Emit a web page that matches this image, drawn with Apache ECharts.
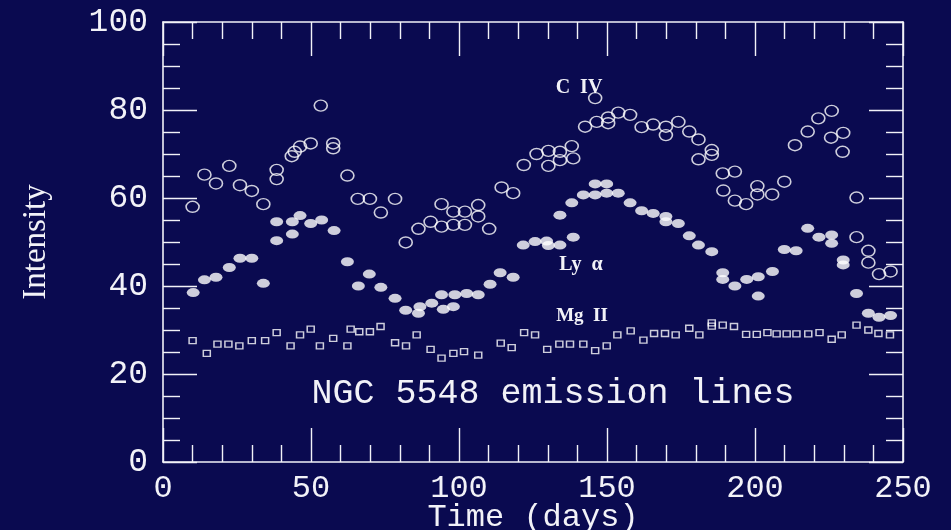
<!DOCTYPE html>
<html>
<head>
<meta charset="utf-8">
<script src="https://cdn.jsdelivr.net/npm/echarts@6/dist/echarts.min.js"></script>
<style>
html,body{margin:0;padding:0;background:#0a0a50;}
#chart{width:951px;height:530px;}
</style>
</head>
<body>
<div id="chart"></div>
<script>
// ---- data ----
const civDays = [10,14,17.9,22.4,26,30,33.9,38.4,38.4,43.5,44.5,46.3,49.9,53.3,57.5,57.5,62.3,65.8,69.9,73.6,78.4,82,86.3,90.4,94.1,94.1,98.1,98.1,102,102,106.5,106.5,110.2,114.4,118.3,121.9,126.2,130.2,130.2,134.1,134.1,138.1,138.6,142.6,146,146.5,150.4,150.4,153.8,157.8,161.7,165.6,169.9,169.9,174.1,177.8,180.9,180.9,185.4,185.4,189.1,193.2,189.3,193.2,197,200.8,200.8,205.8,209.9,213.5,217.8,221.4,225.9,225.7,229.8,229.6,234.3,234.3,238.3,238.3,241.9,245.8];
const civVals = [58.0,65.3,63.3,67.3,62.9,61.6,58.6,66.4,64.3,69.5,70.5,71.7,72.4,81.0,72.4,71.3,65.1,59.8,59.8,56.7,59.8,49.9,53.0,54.6,58.6,53.5,56.9,53.9,56.9,53.9,58.4,55.8,53.0,62.4,61.1,67.5,70.0,70.7,67.3,70.5,68.6,71.8,69.0,76.2,82.7,77.3,78.3,77.0,79.4,78.9,76.1,76.7,76.2,74.3,77.3,75.1,73.3,68.8,70.9,69.8,65.6,66.0,61.7,59.4,58.6,62.7,60.8,60.8,63.7,72.0,75.1,78.1,79.8,73.7,74.8,70.5,60.1,51.1,48.0,45.3,42.7,43.3];

const lyaDays = [10.2,14,17.9,22.4,26,30,33.9,38.4,38.4,43.7,43.7,46.3,49.9,53.6,57.8,62.3,66,69.7,73.6,78.4,82,86.3,86.8,90.8,94.7,94.1,98.1,98.6,102.6,106.5,110.5,113.9,118.3,121.7,125.7,129.6,130.2,134.1,138.6,134.1,138.1,142,146,146,149.9,149.9,153.8,157.8,161.7,165.6,169.9,169.9,174.1,177.8,180.9,185.4,189.1,189.1,193.2,197.2,201.1,201.1,205.9,209.9,213.9,217.8,221.6,225.9,225.9,229.8,229.8,234.3,238.3,241.9,245.8];
const lyaVals = [38.5,41.4,42.0,44.2,46.3,46.3,40.6,50.3,54.6,51.8,54.6,56.0,54.2,55.0,52.6,45.5,40.0,42.7,39.7,37.2,34.5,33.8,35.3,36.1,34.7,38.0,35.3,38.0,38.3,38.0,40.4,43.0,42.0,49.3,50.1,50.2,49.2,49.3,51.1,56.1,58.9,60.7,63.2,60.7,63.2,61.1,61.1,58.9,57.1,56.5,55.8,54.6,54.2,51.4,49.3,47.8,43.0,41.5,40.0,41.5,42.1,37.7,43.3,48.3,48.0,53.1,51.1,51.6,49.7,45.9,44.8,38.3,33.8,32.9,33.3];

const mgDays = [10,14.8,18.4,22.1,25.8,30,34.5,38.4,43.1,46.3,49.9,53,57.5,62.3,63.4,66.3,69.9,73.5,78.4,82.1,85.7,90.4,94.1,98.1,101.7,106.5,114.1,117.8,122,125.7,129.8,133.9,137.5,142,146,149.9,153.5,158,162.3,165.9,169.6,173.2,177.8,181.2,185.4,185.4,189.1,192.9,197,200.6,204.2,207.3,210.7,214,218,221.8,225.9,229.3,234.3,238.3,241.7,245.6];
const mgVals = [27.6,24.7,26.8,26.8,26.4,27.6,27.6,29.4,26.4,28.9,30.2,26.4,28.1,26.4,30.2,29.6,29.6,30.8,27.1,26.4,28.9,25.6,23.6,24.7,25.1,24.3,27.0,26.0,29.4,28.9,25.6,26.8,26.8,26.8,25.3,26.4,28.9,29.8,27.7,29.2,29.2,28.9,30.4,28.9,31.6,30.9,31.1,30.8,29.0,29.0,29.4,29.1,29.1,29.1,29.1,29.4,27.9,28.9,31.1,30.0,29.2,28.9];

const xTicks = [0,50,100,150,200,250];
const yTicks = [0,20,40,60,80,100];

// ---- chart ----
const FG = '#f2f2f8';
const MONO = '"Liberation Mono", "DejaVu Sans Mono", monospace';
const SERIF = '"Liberation Serif", "DejaVu Serif", serif';
function pairs(xs, ys){ return xs.map((x,i)=>[x, ys[i]]); }

function axisCommon(extra){
  return Object.assign({
    type:'value',
    axisLine:{show:true, onZero:false, lineStyle:{color:FG, width:1.6}},
    axisTick:{show:true, inside:true, length:34, lineStyle:{color:FG, width:1.4}},
    minorTick:{show:true, splitNumber:4, length:17, lineStyle:{color:FG, width:1.4}},
    splitLine:{show:false},
  }, extra);
}

const chart = echarts.init(document.getElementById('chart'), null, {renderer:'canvas'});
chart.setOption({
  backgroundColor:'#0a0a50',
  animation:false,
  grid:{left:163, top:22, right:48, bottom:68, containLabel:false, outerBoundsMode:'none'},
  xAxis:[
    axisCommon({position:'bottom', min:0, max:250, interval:50,
      minorTick:{show:true, splitNumber:5, length:17, lineStyle:{color:FG, width:1.4}},
      axisLabel:{color:FG, fontFamily:MONO, fontSize:32, margin:11,
        formatter:v=> xTicks.indexOf(v) >= 0 ? String(v) : ''},
      name:'Time (days)', nameLocation:'middle', nameGap:40, nameMoveOverlap:false,
      nameTextStyle:{color:FG, fontFamily:MONO, fontSize:32}}),
    axisCommon({position:'top', min:0, max:250, interval:50,
      minorTick:{show:true, splitNumber:5, length:17, lineStyle:{color:FG, width:1.4}},
      axisLabel:{show:false}})
  ],
  yAxis:[
    axisCommon({position:'left', min:0, max:100, interval:20,
      axisLabel:{color:FG, fontFamily:MONO, fontSize:33, margin:15,
        formatter:v=> yTicks.indexOf(v) >= 0 ? String(v) : ''},
      name:'Intensity', nameLocation:'middle', nameGap:110, nameRotate:90, nameMoveOverlap:false,
      nameTextStyle:{color:FG, fontFamily:SERIF, fontSize:33}}),
    axisCommon({position:'right', min:0, max:100, interval:20, axisLabel:{show:false}})
  ],
  series:[
    {name:'C IV', type:'scatter', data:pairs(civDays, civVals), symbol:'circle', symbolSize:[13,11],
     itemStyle:{color:'rgba(0,0,0,0)', borderColor:'#ffffff', borderWidth:1.5}},
    {name:'Ly alpha', type:'scatter', data:pairs(lyaDays, lyaVals), symbol:'circle', symbolSize:[13,9],
     itemStyle:{color:'#ffffff', borderWidth:0}},
    {name:'Mg II', type:'scatter', data:pairs(mgDays, mgVals), symbol:'rect', symbolSize:[7,6],
     itemStyle:{color:'rgba(0,0,0,0)', borderColor:'#ffffff', borderWidth:1.4}}
  ],
  graphic:[
    {type:'text', x:579, y:88, style:{text:'C  IV', fill:FG, font:'bold 20px "Liberation Serif", serif', textAlign:'center', textVerticalAlign:'middle'}},
    {type:'text', x:581, y:265, style:{text:'Ly  α', fill:FG, font:'bold 20px "Liberation Serif", serif', textAlign:'center', textVerticalAlign:'middle'}},
    {type:'text', x:582, y:316, style:{text:'Mg  II', fill:FG, font:'bold 19px "Liberation Serif", serif', textAlign:'center', textVerticalAlign:'middle'}},
    {type:'text', x:553, y:394, style:{text:'NGC 5548 emission lines', fill:FG, font:'35px "Liberation Mono", monospace', textAlign:'center', textVerticalAlign:'middle'}}
  ]
});
</script>
</body>
</html>
